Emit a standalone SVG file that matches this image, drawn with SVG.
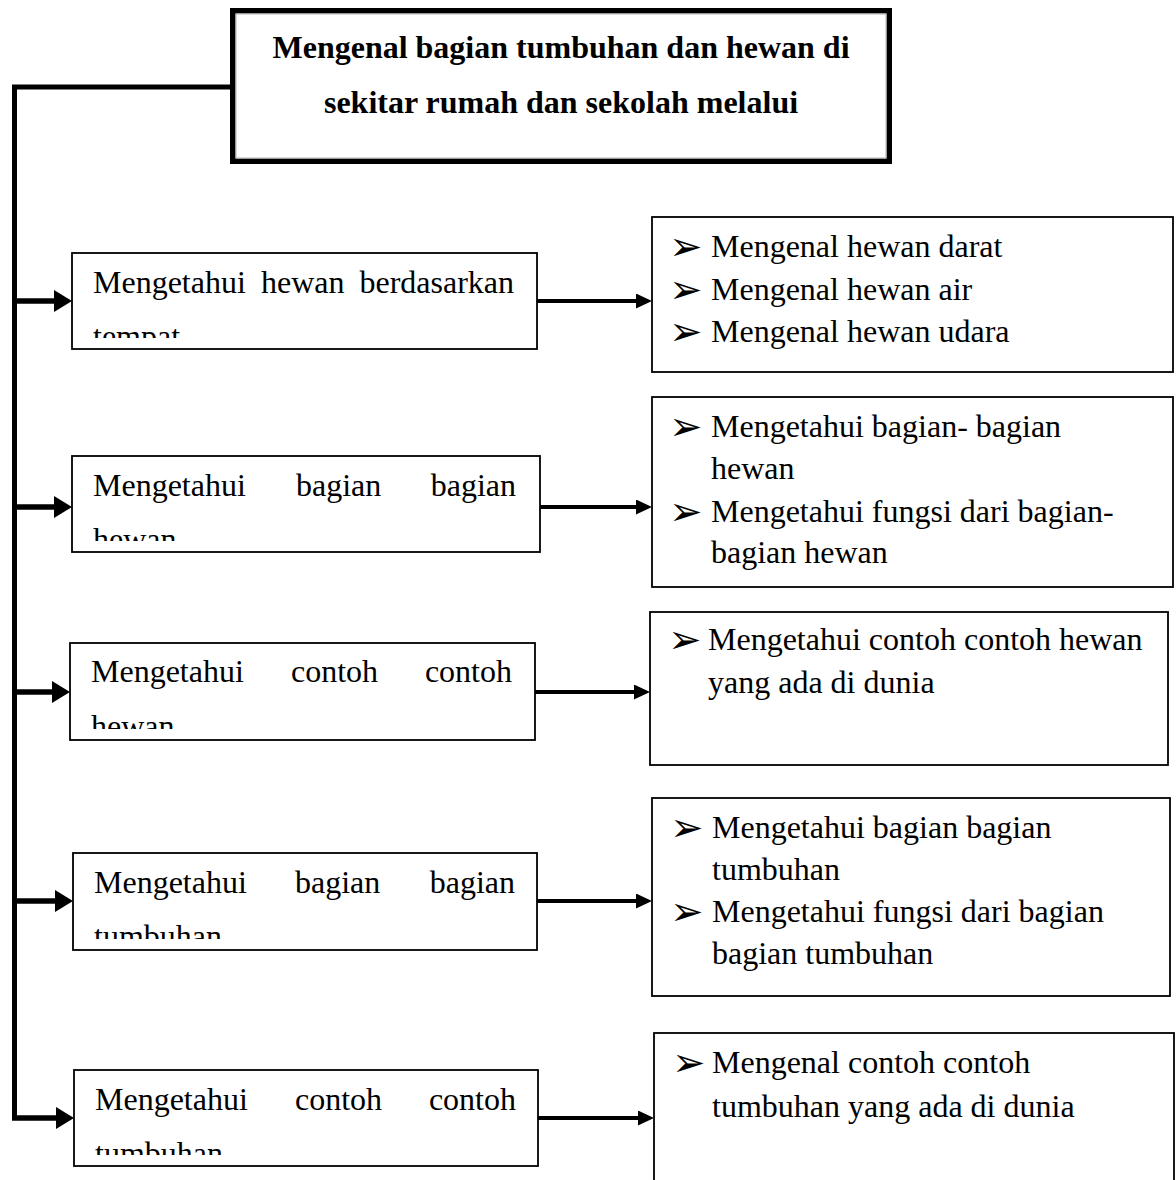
<svg xmlns="http://www.w3.org/2000/svg" width="1176" height="1180" viewBox="0 0 1176 1180">
  <style>
    .box { fill: #fff; stroke: #000; stroke-width: 1.8; }
    .head { fill: #fff; stroke: #000; stroke-width: 5.5; }
    .headIn { fill: none; stroke: #b4b4b4; stroke-width: 1; }
    .t { font-family: "Liberation Serif", "Times New Roman", serif; font-size: 32px; fill: #000; }
    .tb { font-weight: bold; }
    .bul { font-family: "DejaVu Sans", sans-serif; font-size: 40px; fill: #000; }
    .spine { fill: none; stroke: #000; stroke-width: 5; stroke-linejoin: miter; }
    .feed { fill: none; stroke: #000; stroke-width: 5.5; }
    .link { fill: none; stroke: #000; stroke-width: 4; }
  </style>
  <defs>
    <marker id="headBig" markerUnits="userSpaceOnUse" markerWidth="18" markerHeight="22" refX="8" refY="11" orient="auto">
      <path d="M0,0 L18,11 L0,22 Z" fill="#000"/>
    </marker>
    <marker id="headSmall" markerUnits="userSpaceOnUse" markerWidth="16" markerHeight="15" refX="8" refY="7.5" orient="auto">
      <path d="M0,0 L16,7.5 L0,15 Z" fill="#000"/>
    </marker>
    <clipPath id="clipL1"><rect x="72" y="253" width="465" height="85"/></clipPath>
    <clipPath id="clipL2"><rect x="72" y="456" width="468" height="85"/></clipPath>
    <clipPath id="clipL3"><rect x="70" y="643" width="465" height="86"/></clipPath>
    <clipPath id="clipL4"><rect x="73" y="853" width="464" height="86"/></clipPath>
    <clipPath id="clipL5"><rect x="74" y="1070" width="464" height="85"/></clipPath>
  </defs>

  <!-- connectors -->
  <g id="connectors">
    <path class="spine" d="M230,87 H14.5 V1120"/>
    <path class="feed" d="M12,301 H62" marker-end="url(#headBig)"/>
    <path class="feed" d="M12,507 H62" marker-end="url(#headBig)"/>
    <path class="feed" d="M12,692 H60" marker-end="url(#headBig)"/>
    <path class="feed" d="M12,901 H63" marker-end="url(#headBig)"/>
    <path class="feed" d="M12,1118 H64" marker-end="url(#headBig)"/>
    <path class="link" d="M537,301 H644" marker-end="url(#headSmall)"/>
    <path class="link" d="M540,507 H644" marker-end="url(#headSmall)"/>
    <path class="link" d="M535,692 H642" marker-end="url(#headSmall)"/>
    <path class="link" d="M537,901 H644" marker-end="url(#headSmall)"/>
    <path class="link" d="M538,1118 H646" marker-end="url(#headSmall)"/>
  </g>

  <!-- main topic -->
  <g id="topic">
    <rect class="head" x="232.75" y="10.75" width="656.5" height="150.5"/>
    <rect class="headIn" x="236" y="14" width="650" height="144"/>
    <text class="t tb" x="561" y="58" text-anchor="middle">Mengenal bagian tumbuhan dan hewan di</text>
    <text class="t tb" x="561" y="113" text-anchor="middle">sekitar rumah dan sekolah melalui</text>
  </g>

  <!-- left column -->
  <g id="left1">
    <rect class="box" x="72" y="253" width="465" height="96"/>
    <g clip-path="url(#clipL1)">
      <text class="t" x="93" y="293">Mengetahui</text>
      <text class="t" x="261" y="293">hewan</text>
      <text class="t" x="514" y="293" text-anchor="end">berdasarkan</text>
      <text class="t" x="93" y="347">tempat</text>
    </g>
  </g>
  <g id="left2">
    <rect class="box" x="72" y="456" width="468" height="96"/>
    <g clip-path="url(#clipL2)">
      <text class="t" x="93" y="496">Mengetahui</text>
      <text class="t" x="296" y="496">bagian</text>
      <text class="t" x="516" y="496" text-anchor="end">bagian</text>
      <text class="t" x="93" y="550">hewan</text>
    </g>
  </g>
  <g id="left3">
    <rect class="box" x="70" y="643" width="465" height="97"/>
    <g clip-path="url(#clipL3)">
      <text class="t" x="91" y="682">Mengetahui</text>
      <text class="t" x="291" y="682">contoh</text>
      <text class="t" x="512" y="682" text-anchor="end">contoh</text>
      <text class="t" x="91" y="737">hewan</text>
    </g>
  </g>
  <g id="left4">
    <rect class="box" x="73" y="853" width="464" height="97"/>
    <g clip-path="url(#clipL4)">
      <text class="t" x="94" y="893">Mengetahui</text>
      <text class="t" x="295" y="893">bagian</text>
      <text class="t" x="515" y="893" text-anchor="end">bagian</text>
      <text class="t" x="94" y="947">tumbuhan</text>
    </g>
  </g>
  <g id="left5">
    <rect class="box" x="74" y="1070" width="464" height="96"/>
    <g clip-path="url(#clipL5)">
      <text class="t" x="95" y="1110">Mengetahui</text>
      <text class="t" x="295" y="1110">contoh</text>
      <text class="t" x="516" y="1110" text-anchor="end">contoh</text>
      <text class="t" x="95" y="1164">tumbuhan</text>
    </g>
  </g>

  <!-- right column -->
  <g id="right1">
    <rect class="box" x="652" y="217" width="521" height="155"/>
    <text class="bul" x="669" y="260">➢</text>
    <text class="bul" x="669" y="303">➢</text>
    <text class="bul" x="669" y="345">➢</text>
    <text class="t" x="711" y="257">Mengenal hewan darat</text>
    <text class="t" x="711" y="300">Mengenal hewan air</text>
    <text class="t" x="711" y="342">Mengenal hewan udara</text>
  </g>
  <g id="right2">
    <rect class="box" x="652" y="397" width="521" height="190"/>
    <text class="bul" x="669" y="440">➢</text>
    <text class="bul" x="669" y="525">➢</text>
    <text class="t" x="711" y="437">Mengetahui bagian- bagian</text>
    <text class="t" x="711" y="479">hewan</text>
    <text class="t" x="711" y="522">Mengetahui fungsi dari bagian-</text>
    <text class="t" x="711" y="563">bagian hewan</text>
  </g>
  <g id="right3">
    <rect class="box" x="650" y="612" width="518" height="153"/>
    <text class="bul" x="668" y="653">➢</text>
    <text class="t" x="708" y="650">Mengetahui contoh contoh hewan</text>
    <text class="t" x="708" y="693">yang ada di dunia</text>
  </g>
  <g id="right4">
    <rect class="box" x="652" y="798" width="518" height="198"/>
    <text class="bul" x="670" y="841">➢</text>
    <text class="bul" x="670" y="925">➢</text>
    <text class="t" x="712" y="838">Mengetahui bagian bagian</text>
    <text class="t" x="712" y="880">tumbuhan</text>
    <text class="t" x="712" y="922">Mengetahui fungsi dari bagian</text>
    <text class="t" x="712" y="964">bagian tumbuhan</text>
  </g>
  <g id="right5">
    <rect class="box" x="654" y="1033" width="520" height="160"/>
    <text class="bul" x="672" y="1076">➢</text>
    <text class="t" x="712" y="1073">Mengenal contoh contoh</text>
    <text class="t" x="712" y="1117">tumbuhan yang ada di dunia</text>
  </g>
</svg>
